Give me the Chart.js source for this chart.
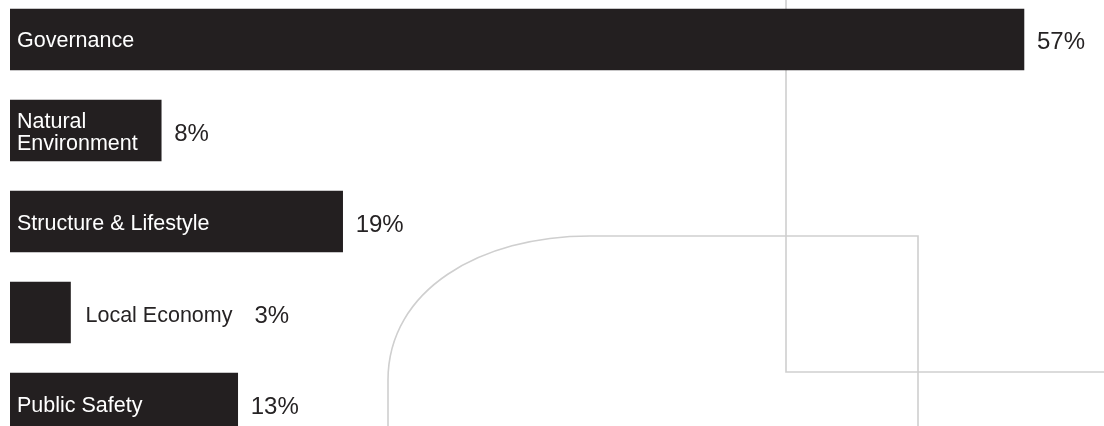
<!DOCTYPE html>
<html>
<head>
<meta charset="utf-8">
<style>
  html, body { margin: 0; padding: 0; background: #ffffff; overflow: hidden; }
  #wrap { position: relative; width: 1104px; height: 426px; }
  canvas { display: block; }
</style>
<script src="https://cdn.jsdelivr.net/npm/chart.js@4/dist/chart.umd.min.js"></script>
</head>
<body>
<div id="wrap"><canvas id="c" width="1104" height="426"></canvas></div>
<script>
// ---- data ----
const categories = ["Governance", "Natural Environment", "Structure & Lifestyle", "Local Economy", "Public Safety"];
const shareValues = [57, 8.5, 18.7, 3.4, 12.8];          // bar lengths (percent)
const valueLabels = ["57%", "8%", "19%", "3%", "13%"];   // printed labels
const xTicks = [0, 61.5];                                // axis range (hidden)
const yRange = [-0.434, 4.247];                          // index-axis range (hidden)

const BAR = "#231f20";
const TXT = "#262324";
const LINE = "#cfcfcf";
const labelFont = '21.5px "Liberation Sans", Arial, Helvetica, sans-serif';
const valueFont = '24px "Liberation Sans", Arial, Helvetica, sans-serif';

// Decorative background lines
const decorPlugin = {
  id: 'decor',
  beforeDraw(chart) {
    const ctx = chart.ctx;
    ctx.save();
    ctx.strokeStyle = LINE;
    ctx.lineWidth = 1.6;
    ctx.beginPath();
    ctx.moveTo(786, 0);
    ctx.lineTo(786, 372);
    ctx.lineTo(1104, 372);
    ctx.stroke();
    ctx.beginPath();
    ctx.moveTo(388, 430);
    ctx.lineTo(388, 380);
    ctx.bezierCurveTo(388, 290, 480, 236, 590, 236);
    ctx.lineTo(918, 236);
    ctx.lineTo(918, 430);
    ctx.stroke();
    ctx.restore();
  }
};

// Labels inside / beside bars, and value labels
const labelPlugin = {
  id: 'barLabels',
  afterDatasetsDraw(chart) {
    const ctx = chart.ctx;
    const meta = chart.getDatasetMeta(0);
    ctx.save();
    meta.data.forEach((bar, i) => {
      const cy = bar.y;
      const left = bar.base;
      const right = bar.x;
      const width = right - left;
      const text = categories[i];
      ctx.font = labelFont;
      const pad = 7;
      let lines = null;
      const full = ctx.measureText(text).width;
      if (full + pad * 2 <= width) {
        lines = [text];
      } else {
        const words = text.split(' ');
        const maxW = Math.max(...words.map(w => ctx.measureText(w).width));
        if (words.length > 1 && maxW + pad * 2 <= width) lines = words;
      }
      let valueX;
      const lh = 22;
      ctx.textAlign = 'left';
      ctx.textBaseline = 'alphabetic';
      if (lines) {
        ctx.fillStyle = '#ffffff';
        const n = lines.length;
        lines.forEach((ln, k) => {
          const base = cy + 8 + (k - (n - 1) / 2) * lh;
          ctx.fillText(ln, left + pad, base);
        });
        valueX = right + 13;
      } else {
        ctx.fillStyle = TXT;
        ctx.fillText(text, right + 15, cy + 9);
        valueX = right + 15 + full + 22;
      }
      ctx.font = valueFont;
      ctx.fillStyle = TXT;
      ctx.fillText(valueLabels[i], valueX, cy + 10);
    });
    ctx.restore();
  }
};

const points = categories.map((c, i) => ({ x: shareValues[i], y: i }));

new Chart(document.getElementById('c'), {
  type: 'bar',
  data: {
    datasets: [{
      data: points,
      backgroundColor: BAR,
      borderWidth: 0,
      barThickness: 61
    }]
  },
  options: {
    indexAxis: 'y',
    responsive: false,
    animation: false,
    layout: { padding: { left: 10, right: 0, top: 0, bottom: 0 } },
    plugins: { legend: { display: false }, tooltip: { enabled: false } },
    scales: {
      x: { type: 'linear', min: xTicks[0], max: xTicks[1], display: false, offset: false },
      y: { type: 'linear', min: yRange[0], max: yRange[1], reverse: true, display: false, offset: false }
    }
  },
  plugins: [decorPlugin, labelPlugin]
});
</script>
</body>
</html>
